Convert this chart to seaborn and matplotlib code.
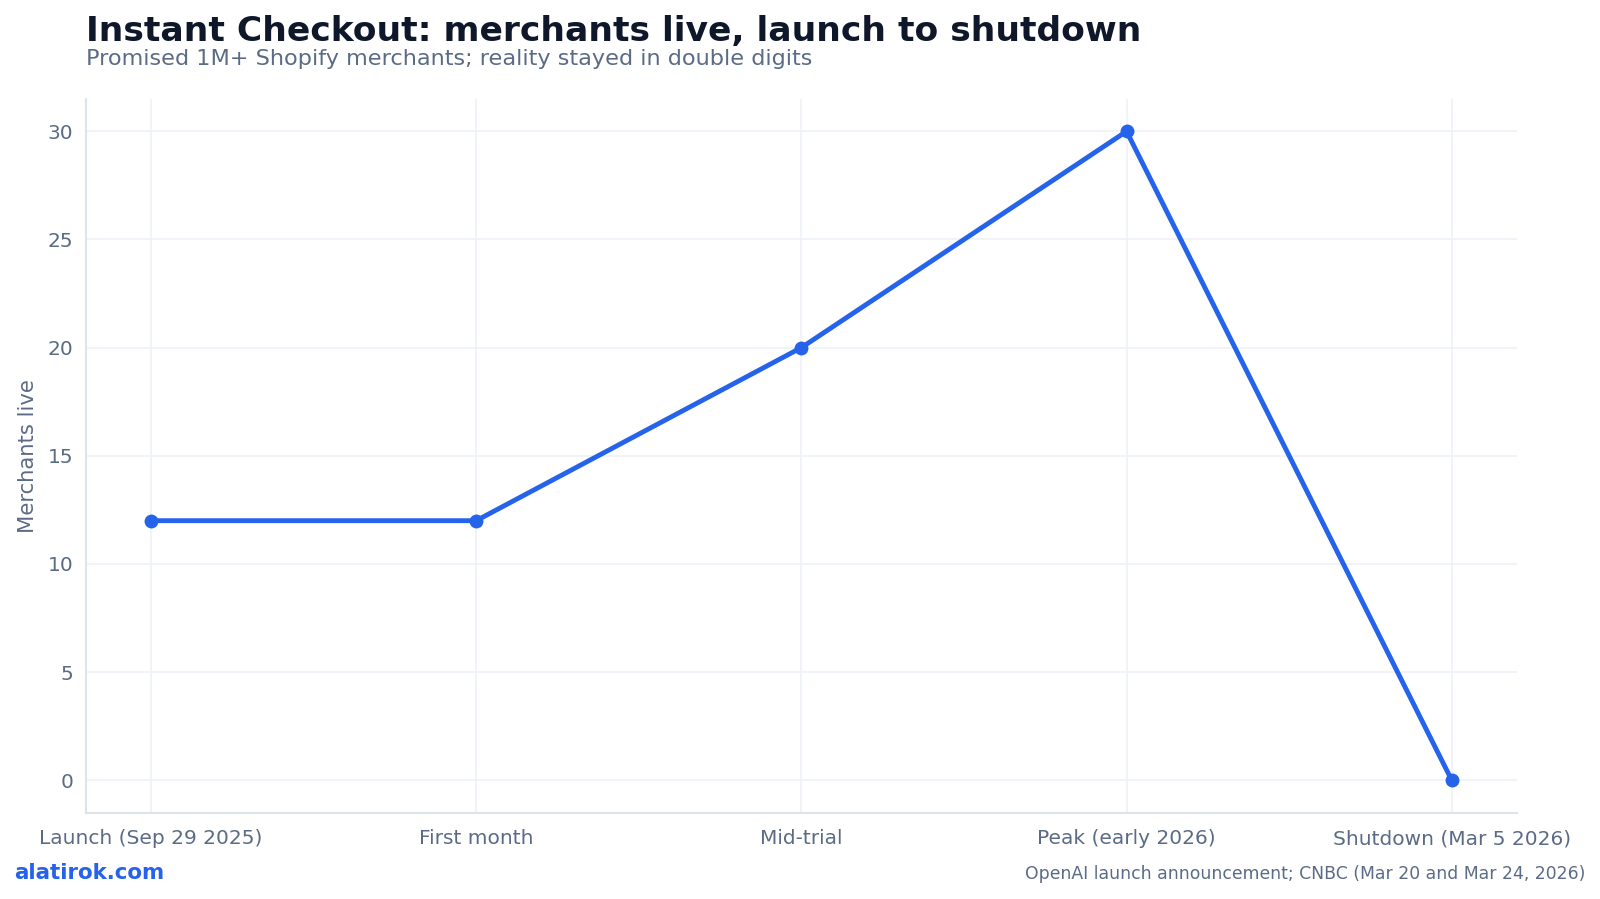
import matplotlib
matplotlib.use("Agg")
import matplotlib.pyplot as plt
import seaborn as sns
import pandas as pd

stages = ["Launch (Sep 29 2025)", "First month", "Mid-trial",
          "Peak (early 2026)", "Shutdown (Mar 5 2026)"]
merchants = [12, 12, 20, 30, 0]
y_ticks = [0, 5, 10, 15, 20, 25, 30]

BLUE = "#2563eb"
DARK = "#0f172a"
MUTED = "#5b6b86"
GRID = "#eef2f7"
SPINE = "#dde4ee"

sns.set_theme(style="white")
plt.rcParams["font.family"] = ["DejaVu Sans"]

df = pd.DataFrame({"pos": range(len(stages)), "stage": stages, "merchants": merchants})

fig = plt.figure(figsize=(16, 8.99), dpi=100)
ax = fig.add_axes([0.0537, 0.096, 0.8943, 0.794])

sns.lineplot(data=df, x="pos", y="merchants", ax=ax, color=BLUE,
             linewidth=3.5, marker="o", markersize=10, markeredgewidth=0)

ax.set_xlim(-0.2, 4.2)
ax.set_ylim(-1.5, 31.5)
ax.set_xticks(df["pos"])
ax.set_xticklabels(stages)
ax.set_yticks(y_ticks)
ax.grid(True, color=GRID, linewidth=1.2)
ax.set_axisbelow(True)

for s in ["top", "right"]:
    ax.spines[s].set_visible(False)
for s in ["left", "bottom"]:
    ax.spines[s].set_color(SPINE)
    ax.spines[s].set_linewidth(1.5)

ax.tick_params(axis="both", colors=MUTED, labelsize=14.5, length=6, width=1.2)
ax.tick_params(axis="both", color="#4b5563")
ax.tick_params(axis="x", pad=6)
ax.tick_params(axis="y", pad=3)
ax.set_xlabel("")
ax.set_ylabel("Merchants live", color=MUTED, fontsize=15.2, labelpad=7)

fig.text(0.0535, 0.9546, "Instant Checkout: merchants live, launch to shutdown",
         fontsize=24.8, fontweight="bold", color=DARK, ha="left", va="baseline")
fig.text(0.0535, 0.9274, "Promised 1M+ Shopify merchants; reality stayed in double digits",
         fontsize=16.1, color=MUTED, ha="left", va="baseline")
fig.text(0.009, 0.022, "alatirok.com", fontsize=15.4, fontweight="bold",
         color=BLUE, ha="left", va="baseline")
fig.text(0.991, 0.022, "OpenAI launch announcement; CNBC (Mar 20 and Mar 24, 2026)",
         fontsize=12.4, color=MUTED, ha="right", va="baseline")

fig.savefig("out.png", dpi=100)
plt.close()
